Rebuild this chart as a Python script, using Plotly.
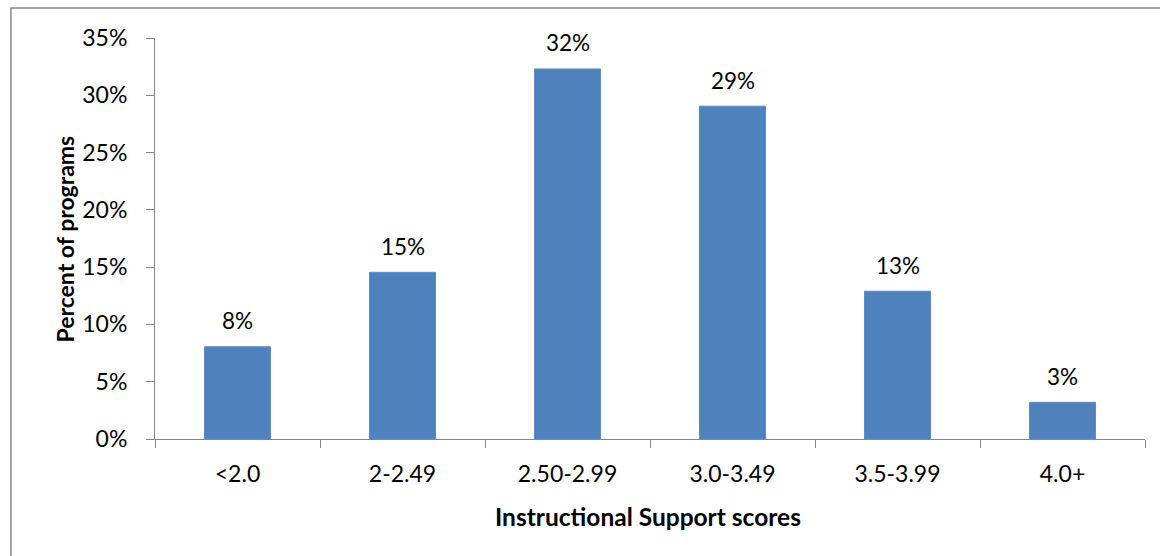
import plotly.graph_objects as go

categories = ["<2.0", "2-2.49", "2.50-2.99", "3.0-3.49", "3.5-3.99", "4.0+"]
percents = [8.05, 14.55, 32.3, 29.05, 12.9, 3.2]
y_ticks = [0, 5, 10, 15, 20, 25, 30, 35]

FONT = "Lato"
AXIS_COLOR = "#868686"
BAR_COLOR = "#4F81BD"

fig = go.Figure()
fig.add_trace(go.Bar(
    x=categories, y=percents,
    marker=dict(color=BAR_COLOR, line=dict(color="#5B8CC6", width=1)),
    hoverinfo="x+y",
))

annotations = []
for c, v in zip(categories, percents):
    annotations.append(dict(
        x=c, y=v, xref="x", yref="y", text=f"{round(v)}%",
        showarrow=False, yanchor="middle", yshift=26,
        font=dict(family=FONT, size=22.5, color="black"),
    ))
annotations.append(dict(
    x=-0.0919, y=0.4975, xref="paper", yref="paper",
    text="<b>Percent of programs</b>", textangle=-90, showarrow=False,
    xanchor="center", yanchor="middle",
    font=dict(family=FONT, size=23, color="black"),
))
annotations.append(dict(
    x=0.4975, y=-0.1945, xref="paper", yref="paper",
    text="<b>Instructional Support scores</b>", showarrow=False,
    xanchor="center", yanchor="middle",
    font=dict(family=FONT, size=24.5, color="black"),
))

fig.update_layout(
    width=1160, height=556,
    margin=dict(l=155, r=15, t=38, b=117),
    paper_bgcolor="white", plot_bgcolor="white",
    bargap=0.6, showlegend=False,
    annotations=annotations,
    shapes=[dict(
        type="rect", xref="paper", yref="paper",
        x0=-0.1455, x1=1.06, y0=-0.35, y1=1.0748,
        line=dict(color=AXIS_COLOR, width=1.5), fillcolor="rgba(0,0,0,0)",
        layer="below",
    )],
)
fig.update_xaxes(
    type="category", range=[-0.5, 5.5],
    showline=True, linecolor=AXIS_COLOR, linewidth=1,
    ticks="outside", tickson="boundaries", ticklen=8, tickcolor=AXIS_COLOR,
    showgrid=False, zeroline=False,
    tickfont=dict(family=FONT, size=23, color="black"),
    ticklabelstandoff=14,
)
fig.update_yaxes(
    range=[0, 35], tickvals=y_ticks, ticktext=[f"{t}%" for t in y_ticks],
    showline=True, linecolor=AXIS_COLOR, linewidth=1,
    ticks="outside", ticklen=8, tickcolor=AXIS_COLOR,
    showgrid=False, zeroline=False,
    tickfont=dict(family=FONT, size=23, color="black"),
    ticklabelstandoff=14,
)

fig.write_html("out.html")
